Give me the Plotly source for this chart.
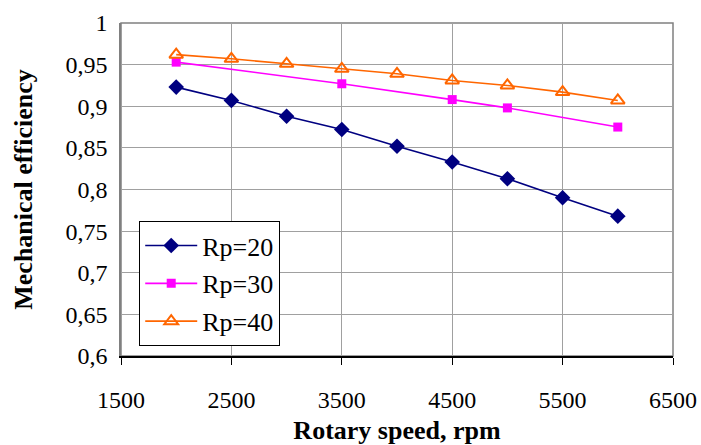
import plotly.graph_objects as go

rpm_20 = [2000, 2500, 3000, 3500, 4000, 4500, 5000, 5500, 6000]
eff_20 = [0.923, 0.907, 0.888, 0.872, 0.852, 0.833, 0.813, 0.790, 0.768]

rpm_30 = [2000, 3500, 4500, 5000, 6000]
eff_30 = [0.953, 0.927, 0.908, 0.898, 0.875]

rpm_40 = [2000, 2500, 3000, 3500, 4000, 4500, 5000, 5500, 6000]
eff_40 = [0.962, 0.957, 0.951, 0.945, 0.939, 0.931, 0.925, 0.917, 0.907]

names = ["Rp=20", "Rp=30", "Rp=40"]
x_ticks = [1500, 2500, 3500, 4500, 5500, 6500]

FONT = "Times New Roman"

fig = go.Figure()
fig.add_trace(go.Scatter(x=rpm_20, y=eff_20, name=names[0], mode="lines+markers",
                         line=dict(color="#000080", width=1.6),
                         marker=dict(symbol="diamond", size=12, color="#000080"),
                         legendgroup="a"))
fig.add_trace(go.Scatter(x=rpm_30, y=eff_30, name=names[1], mode="lines+markers",
                         line=dict(color="#FF00FF", width=1.6),
                         marker=dict(symbol="square", size=9, color="#FF00FF"),
                         legendgroup="b"))
fig.add_trace(go.Scatter(x=rpm_40, y=eff_40, name=names[2], mode="lines+markers",
                         line=dict(color="#FF6600", width=1.6),
                         marker=dict(symbol="triangle-up-open", size=12, color="#FF6600",
                                     line=dict(width=2, color="#FF6600")),
                         legendgroup="c"))

fig.update_layout(
    width=701, height=445,
    margin=dict(l=121, r=28, t=23, b=89),
    paper_bgcolor="white", plot_bgcolor="white",
    separators=", ",
    font=dict(family=FONT, size=24, color="black"),
    showlegend=True,
    legend=dict(x=0.033, y=0.405, xanchor="left", yanchor="top",
                bgcolor="white", bordercolor="black", borderwidth=1,
                font=dict(family=FONT, size=26, color="black"),
                traceorder="grouped", tracegroupgap=1, itemwidth=52),
    xaxis=dict(range=[1500, 6500], tickvals=x_ticks, ticktext=[str(v) for v in x_ticks],
               tickfont=dict(family=FONT, size=24, color="black"),
               ticklabelstandoff=14,
               showgrid=True, gridcolor="#A0A0A0", gridwidth=1.3,
               showline=True, linecolor="black", linewidth=1.5,
               ticks="outside", ticklen=7, tickcolor="black", tickwidth=1.3,
               mirror=False, zeroline=False, automargin=False,
               title=dict(text="<b>Rotary speed, rpm</b>", standoff=12,
                          font=dict(family=FONT, size=26))),
    yaxis=dict(range=[0.6, 1.0], dtick=0.05, tick0=0.6,
               tickfont=dict(family=FONT, size=24, color="black"),
               ticklabelstandoff=7,
               showgrid=True, gridcolor="#A0A0A0", gridwidth=1.3,
               showline=True, linecolor="#808080", linewidth=1.5,
               ticks="", zeroline=False, automargin=False,
               title=dict(text="<b>Mechanical efficiency</b>", standoff=25,
                          font=dict(family=FONT, size=26))),
)
fig.add_shape(type="rect", xref="paper", yref="paper", x0=0, y0=0, x1=1, y1=1,
              line=dict(color="#808080", width=1.5), layer="below")

fig.write_html("out.html", config={"displayModeBar": False},
               post_script="document.body.style.margin='0';")
